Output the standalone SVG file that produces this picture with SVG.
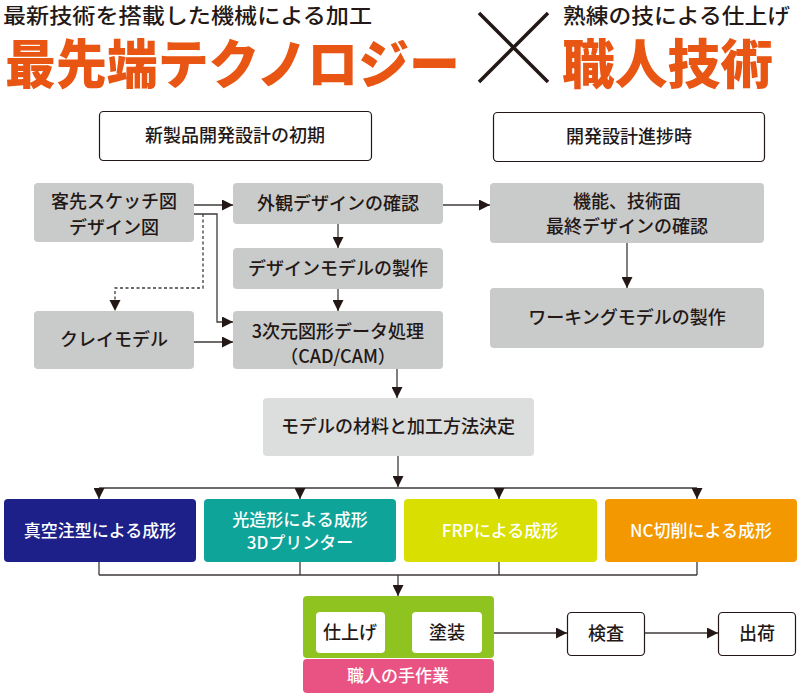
<svg xmlns="http://www.w3.org/2000/svg" width="800" height="696" viewBox="0 0 800 696">
<defs>
<style>
text{font-family:"Noto Sans CJK JP","Noto Sans",sans-serif;fill:#231815;text-anchor:middle;font-weight:500}
.t{font-size:18px}
.c{font-size:17px}
.w{fill:#fff}
.hd{font-size:21px;text-anchor:start}
.big{font-size:53px;font-weight:900;fill:#E95513;text-anchor:start}
.g{fill:#C9CACA}
.lg{fill:#DCDDDD}
.ob{fill:#fff;stroke:#231815;stroke-width:1.2}
.ln{stroke:#3E3A39;stroke-width:1.3;fill:none}
.ds{stroke-dasharray:3 2.5}
</style>
<marker id="ar" viewBox="0 0 11 11" refX="11" refY="5.5" markerWidth="11" markerHeight="11" markerUnits="userSpaceOnUse" orient="auto">
<path d="M0,0 L11,5.5 L0,11 Z" fill="#231815"/>
</marker>
</defs>
<rect width="800" height="696" fill="#fff"/>
<g id="header">
<text class="hd" x="3" y="23" textLength="369" lengthAdjust="spacingAndGlyphs">最新技術を搭載した機械による加工</text>
<text class="big" x="5" y="84" textLength="455" lengthAdjust="spacingAndGlyphs">最先端テクノロジー</text>
<path d="M479,13 L548,82 M548,13 L479,82" stroke="#231815" stroke-width="3.5"/>
<text class="hd" x="563" y="23" textLength="227" lengthAdjust="spacingAndGlyphs">熟練の技による仕上げ</text>
<text class="big" x="562" y="84" textLength="211" lengthAdjust="spacingAndGlyphs">職人技術</text>
</g>
<g id="connectors">
<path class="ln" marker-end="url(#ar)" d="M194,205 H233"/>
<path class="ln" marker-end="url(#ar)" d="M194,214 H217 V322 H233"/>
<path class="ln ds" d="M203,214 V288 H115 V300"/>
<path d="M109.5,300 L120.5,300 L115,311 Z" fill="#231815"/>
<path class="ln" marker-end="url(#ar)" d="M194,342 H233"/>
<path class="ln" marker-end="url(#ar)" d="M338,224 V248"/>
<path class="ln" marker-end="url(#ar)" d="M338,289 V311"/>
<path class="ln" marker-end="url(#ar)" d="M443,205 H490"/>
<path class="ln" marker-end="url(#ar)" d="M627,243 V288"/>
<path class="ln" marker-end="url(#ar)" d="M397,369 V398"/>
<path class="ln" marker-end="url(#ar)" d="M398,456 V487"/>
<path class="ln" d="M99,488 H697"/>
<path class="ln" marker-end="url(#ar)" d="M99,488 V499"/>
<path class="ln" marker-end="url(#ar)" d="M300,488 V499"/>
<path class="ln" marker-end="url(#ar)" d="M499,488 V499"/>
<path class="ln" marker-end="url(#ar)" d="M697,488 V499"/>
<path class="ln" d="M99,562 V575 M300,562 V575 M499,562 V575 M697,562 V575 M99,575 H697"/>
<path class="ln" marker-end="url(#ar)" d="M398,575 V596"/>
<path class="ln" marker-end="url(#ar)" d="M494,633 H567"/>
<path class="ln" marker-end="url(#ar)" d="M644,633 H718"/>
</g>
<g id="n-early"><rect class="ob" x="99.5" y="111.5" width="272" height="49" rx="4"/><text class="t" x="235" y="142">新製品開発設計の初期</text></g>
<g id="n-progress"><rect class="ob" x="493.5" y="112.5" width="271" height="49" rx="4"/><text class="t" x="629" y="143">開発設計進捗時</text></g>
<g id="n-sketch"><rect class="g" x="34" y="183" width="160" height="59" rx="4"/><text class="t" x="114" y="208">客先スケッチ図</text><text class="t" x="114" y="234">デザイン図</text></g>
<g id="n-appearance"><rect class="g" x="233" y="183" width="210" height="41" rx="4"/><text class="t" x="338" y="210">外観デザインの確認</text></g>
<g id="n-designmodel"><rect class="g" x="233" y="248" width="210" height="41" rx="4"/><text class="t" x="338" y="275">デザインモデルの製作</text></g>
<g id="n-clay"><rect class="g" x="34" y="311" width="160" height="58" rx="4"/><text class="t" x="114" y="346">クレイモデル</text></g>
<g id="n-cad"><rect class="g" x="233" y="311" width="210" height="58" rx="4"/><text class="t" x="338" y="338">3次元図形データ処理</text><text class="t" x="338" y="363">（CAD/CAM）</text></g>
<g id="n-final"><rect class="g" x="490" y="183" width="274" height="60" rx="4"/><text class="t" x="627" y="208">機能、技術面</text><text class="t" x="627" y="233">最終デザインの確認</text></g>
<g id="n-working"><rect class="g" x="490" y="288" width="274" height="60" rx="4"/><text class="t" x="627" y="324">ワーキングモデルの製作</text></g>
<g id="n-material"><rect class="lg" x="263" y="398" width="271" height="58" rx="4"/><text class="t" x="398" y="433">モデルの材料と加工方法決定</text></g>
<g id="n-vacuum"><rect fill="#1D2088" x="4" y="499" width="192" height="63" rx="4"/><text class="c w" x="100" y="537">真空注型による成形</text></g>
<g id="n-stereo"><rect fill="#0EA49A" x="204" y="499" width="192" height="63" rx="4"/><text class="c w" x="300" y="526">光造形による成形</text><text class="c w" x="300" y="549">3Dプリンター</text></g>
<g id="n-frp"><rect fill="#D9DF00" x="404" y="499" width="193" height="63" rx="4"/><text class="c w" x="500" y="537">FRPによる成形</text></g>
<g id="n-nc"><rect fill="#F39800" x="605" y="499" width="192" height="63" rx="4"/><text class="c w" x="701" y="537">NC切削による成形</text></g>
<g id="n-craft">
<rect fill="#8FC31F" x="303" y="596" width="191" height="62" rx="4"/>
<rect fill="#E95383" x="303" y="659" width="191" height="34" rx="4"/>
<text class="c w" x="398" y="682">職人の手作業</text>
</g>
<g id="n-finish"><rect fill="#fff" x="316" y="612" width="69" height="41" rx="4"/><text class="t" x="350" y="639">仕上げ</text></g>
<g id="n-paint"><rect fill="#fff" x="412" y="612" width="70" height="41" rx="4"/><text class="t" x="447" y="639">塗装</text></g>
<g id="n-inspect"><rect class="ob" x="567.5" y="612.5" width="77" height="43" rx="4"/><text class="t" x="606" y="640">検査</text></g>
<g id="n-ship"><rect class="ob" x="718.5" y="612.5" width="77" height="43" rx="4"/><text class="t" x="757" y="640">出荷</text></g>
</svg>
